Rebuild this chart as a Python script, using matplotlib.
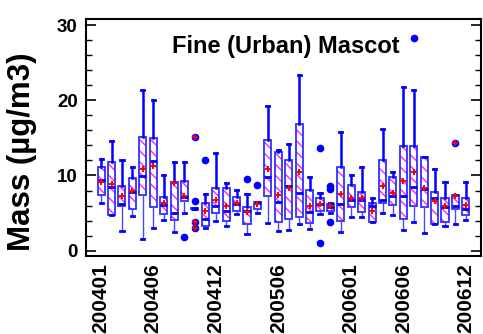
import numpy as np
import matplotlib.pyplot as plt
from matplotlib.patches import PathPatch

plt.rcParams['font.family'] = ['Liberation Sans', 'DejaVu Sans']
plt.rcParams['font.weight'] = 'bold'
plt.rcParams['hatch.linewidth'] = 1.0

# months 200401 .. 200612
months = [f"{y}{m:02d}" for y in (2004, 2005, 2006) for m in range(1, 13)]

# box statistics (ug/m3)
whis_hi = [12.2, 14.6, 12.1, 11.1, 21.3, 20.0, 10.1, 11.8, 11.8, 5.7, 7.5, 13.0,
           9.0, 8.1, 7.5, 6.5, 19.2, 13.4, 14.2, 23.3, 9.8, 7.7, 6.4, 15.8,
           10.0, 11.1, 7.0, 16.2, 10.4, 21.7, 21.3, 12.5, 10.8, 9.1, 7.4, 9.2]
q3 = [11.1, 11.8, 8.6, 9.7, 15.1, 15.0, 7.2, 9.2, 9.3, 5.7, 6.4, 8.3,
      8.4, 7.1, 5.8, 6.5, 14.7, 13.1, 12.0, 16.9, 8.1, 7.0, 6.2, 11.1,
      8.8, 7.8, 6.4, 12.0, 9.8, 13.9, 13.9, 12.4, 7.8, 7.0, 7.4, 7.0]
med = [9.4, 8.5, 6.2, 7.8, 9.9, 11.9, 6.1, 5.0, 7.1, 5.6, 4.2, 6.0,
       5.3, 6.2, 5.3, 6.4, 9.8, 6.5, 8.6, 7.7, 5.1, 6.2, 5.8, 6.2,
       6.8, 6.8, 5.9, 6.8, 7.3, 7.3, 8.5, 8.2, 7.0, 5.8, 5.9, 5.6]
mean = [9.2, 8.9, 7.3, 7.9, 10.9, 11.3, 6.3, 9.0, 7.3, np.nan, 5.3, 6.8,
        6.0, 6.4, 5.1, 6.2, 10.8, 7.4, 8.3, 10.5, 6.0, 6.2, 5.9, 7.6,
        7.0, 7.0, 5.3, 8.6, 7.7, 9.3, 10.5, 8.3, 6.6, 6.0, 7.3, 6.1]
q1 = [7.4, 4.7, 5.9, 5.5, 7.4, 5.8, 4.9, 4.1, 6.6, 5.5, 3.3, 5.0,
      4.0, 5.3, 3.5, 5.5, 7.3, 3.8, 4.2, 4.5, 3.7, 5.3, 5.3, 3.9,
      5.8, 5.2, 3.8, 6.3, 6.1, 4.2, 6.0, 5.8, 3.6, 3.8, 5.5, 4.7]
whis_lo = [6.4, 4.7, 2.6, 4.6, 1.6, 3.0, 4.1, 2.5, 5.0, 5.5, 3.0, 3.9,
           3.3, 4.9, 2.2, 5.0, 3.7, 2.6, 2.7, 3.5, 2.9, 4.9, 5.0, 2.5,
           4.5, 4.5, 3.8, 5.0, 4.8, 2.7, 3.8, 2.4, 3.6, 3.3, 3.5, 4.1]

outliers = {'200409': [1.8], '200410': [15.1, 6.6, 3.8, 3.0], '200411': [12.1],
            '200503': [9.5], '200504': [8.7], '200510': [13.6, 1.0],
            '200511': [8.6, 8.2, 3.8], '200607': [28.3], '200611': [14.3]}
red_outliers = {'200410': [15.1, 3.8, 3.0], '200611': [14.3]}

tick_months = ['200401', '200406', '200412', '200506', '200601', '200606', '200612']

pos = np.arange(1, len(months) + 1)
stats = []
for i, m in enumerate(months):
    stats.append(dict(med=med[i], q1=q1[i], q3=q3[i], whislo=whis_lo[i],
                      whishi=whis_hi[i], mean=mean[i], fliers=outliers.get(m, [])))

fig = plt.figure(figsize=(4.83, 3.34), dpi=100)
ax = fig.add_axes([86 / 483, 78 / 334, 395 / 483, 237 / 334])

bp = ax.bxp(stats, positions=pos, widths=0.68, patch_artist=True, showmeans=True,
            capwidths=0.3,
            boxprops=dict(facecolor='white', edgecolor='#ff20ff', linewidth=0,
                          hatch='\\\\\\'),
            medianprops=dict(color='#0000f0', linewidth=2),
            whiskerprops=dict(color='#0000ff', linewidth=1.8),
            capprops=dict(color='#0000ff', linewidth=2),
            meanprops=dict(marker='+', markeredgecolor='red', markersize=5,
                           markeredgewidth=1.4),
            flierprops=dict(marker='o', markerfacecolor='#0000ff',
                            markeredgecolor='#0000ff', markersize=4.5))

for b in bp['boxes']:
    b.set_zorder(1.5)
    ax.add_patch(PathPatch(b.get_path(), fill=False, edgecolor='#3030ff',
                           linewidth=1.3, zorder=1.6))
for w in bp['whiskers'][0::2]:
    w.set_linewidth(1.0)
    w.set_color('#4848ff')

for m, vals in red_outliers.items():
    x = pos[months.index(m)]
    ax.plot([x] * len(vals), vals, '+', color='red', ms=4, mew=1.2, zorder=3)

ax.set_xlim(-0.45, 37.45)
ax.set_ylim(-0.7, 30.8)
ax.set_xticks([pos[months.index(m)] for m in tick_months])
ax.set_xticklabels(tick_months, rotation=90, fontsize=15, fontweight='bold')
ax.tick_params(axis='x', length=0, pad=5)
ax.set_yticks([0, 10, 20, 30])
ax.set_yticks(np.arange(0, 31, 2), minor=True)
ax.tick_params(axis='y', which='both', direction='in', left=True, right=True)
ax.tick_params(axis='y', which='major', length=7, width=1.2, labelsize=13.5, pad=6)
ax.tick_params(axis='y', which='minor', length=4.5, width=1.0)
for s in ax.spines.values():
    s.set_linewidth(1.5)

ax.set_ylabel('Mass (µg/m3)', fontsize=22.5, fontweight='bold')
ax.yaxis.set_label_coords(-0.124, 0.44)
ax.text(0.506, 0.882, 'Fine (Urban) Mascot', transform=ax.transAxes,
        ha='center', va='center', fontsize=17, fontweight='bold')

fig.savefig('out.png', dpi=100)
